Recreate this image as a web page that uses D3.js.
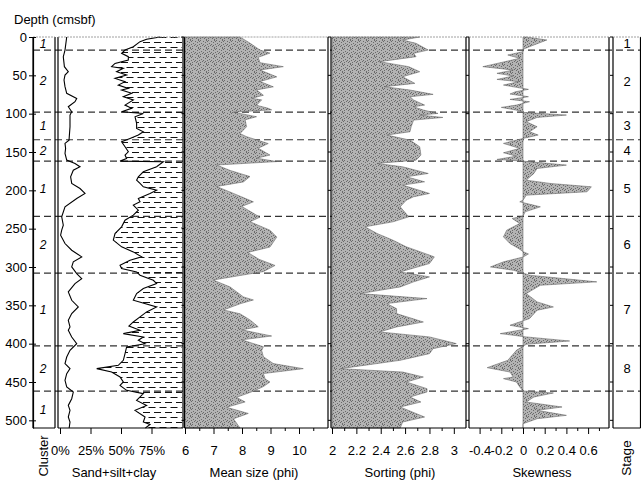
<!DOCTYPE html>
<html>
<head>
<meta charset="utf-8">
<script src="https://cdn.jsdelivr.net/npm/d3@7"></script>
<style>
    body { margin: 0; background: #fff; }
    svg text { font-family: "Liberation Sans", Arial, sans-serif; fill: #000; }
    .tick text { font-family: "Liberation Sans Narrow", "Arial Narrow", "Liberation Sans", sans-serif; font-size: 13px; }
    .title { font-size: 13px; }
    .seg-label { font-size: 12px; }
</style>
</head>
<body>
<div id="core"></div>
<script>

// ---- data (depth in cmsbf, value) ----

const maxDepth = 510;

// unit boundaries (dashed lines)
const boundaries = [17, 98, 134, 162, 234, 308, 403, 462];
const clusterIds = ["1", "2", "1", "2", "1", "2", "1", "2", "1"];
const stageIds = ["1", "2", "3", "4", "5", "6", "7", "8", ""];

// sand % (left line)
const sandPct = [[0, 5.5], [17, 4.1], [25.7, 2.7], [38.7, 3.6], [45.3, 6.8], [49.6, 4.1], [56.1, 3.3], [64.8, 4.1],
    [73.5, 5.5], [80.1, 13.7], [84.4, 12.3], [90.9, 6.8], [97.5, 9.6], [101.8, 8.2], [117, 8.2], [134.5, 7.4],
    [138.8, 4.1], [145.3, 4.6], [151.9, 4.1], [160.6, 5.5], [165, 12.3], [169.3, 16.4], [173.7, 10.9], [182.4, 8.7],
    [191, 9.6], [197.6, 16.4], [204.1, 20.5], [210.6, 13.7], [221.5, 4.1], [234.6, 1.4], [245.5, 2.7], [252, 1.4],
    [258.5, 0.5], [269.4, 4.1], [278.1, 9.6], [286.8, 17.8], [293.3, 10.9], [299.9, 9.6], [308.6, 13.7], [315.1, 17.8],
    [321.6, 12.3], [332.5, 6.8], [343.4, 9.6], [352.1, 15], [360.8, 9.6], [369.5, 6.8], [378.2, 8.2], [382.6, 6.8],
    [391.3, 9.6], [400, 13.7], [408.7, 8.2], [417.4, 5.5], [426.1, 4.1], [432.6, 8.2], [439.1, 5.5], [447.8, 4.1],
    [456.5, 5.5], [463.1, 10.9], [471.8, 9.6], [480.5, 6.8], [487, 8.2], [495.7, 6.8], [502.2, 8.2], [510, 7.5]];

// sand+silt % (clay is the rest, dashed fill)
const sandSiltPct = [[0, 82], [3, 71], [6.1, 65.6], [12.6, 60.1], [17, 53.3], [21.3, 50.5], [25.7, 56], [30, 56],
    [34.4, 45.1], [38.7, 42.3], [40.9, 51.9], [45.3, 46.4], [49.6, 54.6], [54, 45.1], [58.3, 53.3], [62.7, 47.8],
    [67, 56], [69.2, 50.5], [73.5, 58.7], [77.9, 51.9], [82.2, 60.1], [88.8, 53.3], [93.1, 58.7], [97.5, 50.5],
    [99.7, 68.3], [104, 61.5], [112.7, 62.8], [119.2, 62.8], [123.6, 68.3], [127.9, 64.2], [132.3, 57.4], [136.6, 50.5],
    [143.2, 53.3], [149.7, 56], [154, 53.3], [158.4, 54.6], [161.9, 49.2], [162.8, 84.7], [169.3, 79.2], [175.8, 68.3],
    [182.4, 64.2], [186.7, 62.8], [191, 65.6], [195.4, 68.3], [199.8, 79.2], [204.1, 73.8], [210.6, 64.2], [215, 65.6],
    [219.3, 60.1], [225.9, 64.2], [232.4, 60.1], [238.9, 53.3], [247.6, 50.5], [256.3, 45.1], [265, 43.7], [273.7, 50.5],
    [280.3, 60.1], [286.8, 66.9], [291.1, 57.4], [297.7, 49.2], [302, 50.5], [306.4, 62.8], [310.7, 65.6], [317.3, 76.5],
    [321.6, 79.2], [328.1, 68.3], [334.7, 62.8], [343.4, 60.1], [352.1, 79.2], [358.6, 71], [365.1, 65.6], [371.7, 60.1],
    [377, 56.5], [382.6, 65.6], [386.9, 51.9], [391.3, 68.3], [395.6, 64.2], [400, 69.7], [404.3, 54.6], [413, 53.3],
    [421.7, 51.9], [428.2, 47.8], [432.6, 30.1], [437, 42.3], [443.5, 49.2], [450, 51.9], [454.4, 49.2], [460.9, 54.6],
    [465.2, 68.3], [474, 62.8], [480.5, 71], [487, 61.5], [495.7, 69.7], [502.2, 68.3], [505.3, 73.8], [510, 70]];

// mean size (phi)
const meanSize = [[0, 7.93], [8, 8.28], [17, 8.63], [21, 8.98], [26.5, 8.57], [33.5, 8.63], [38.7, 9.45], [43, 8.63],
    [52, 9.22], [58, 8.63], [65, 9.10], [69, 8.51], [76, 8.75], [80, 8.34], [82, 8.69], [89, 8.51], [93, 8.92],
    [95, 9.04], [98, 7.70], [104, 8.51], [108, 8.11], [117, 8.16], [126, 7.93], [130, 8.16], [139, 8.92], [145, 8.57],
    [154, 8.98], [158, 8.51], [162.5, 9.22], [167, 7.11], [174, 7.58], [182, 8.28], [189, 8.05], [195, 7.11],
    [204, 7.70], [215, 8.40], [221, 7.99], [235, 8.63], [241, 8.28], [252, 8.98], [261, 9.22], [274, 8.98],
    [281, 8.2], [290, 8.6], [298, 9.16], [306, 8.75], [317, 6.99], [326, 7.58], [339, 8.05], [343, 8.40],
    [348, 7.93], [356, 7.35], [361, 7.93], [369, 8.28], [378, 8.57], [382, 7.99], [390, 9.04], [395, 7.99],
    [404, 8.75], [409, 8.69], [417, 8.75], [426, 9.10], [432.6, 10.15], [439, 8.75], [446, 8.81], [450, 8.98],
    [456, 8.75], [462, 8.40], [470, 7.81], [476, 8.11], [483, 7.46], [491, 8.22], [498, 7.70], [510, 7.93]];

// sorting (phi)
const sorting = [[0, 2.72], [3.9, 2.58], [8.3, 2.69], [17, 2.79], [21.3, 2.67], [25.7, 2.69], [32.2, 2.39], [38.7, 2.63],
    [45.3, 2.72], [51.8, 2.58], [60.5, 2.68], [64.8, 2.43], [69.2, 2.64], [74.8, 2.83], [77.9, 2.64], [82.2, 2.67],
    [88.8, 2.76], [90.9, 2.67], [95.3, 2.75], [99.7, 2.87], [101.8, 2.72], [104.9, 2.91], [108.4, 2.67], [117, 2.65],
    [123.6, 2.64], [127.9, 2.45], [134.5, 2.64], [143.2, 2.72], [154, 2.73], [160.6, 2.69], [164.9, 2.37], [169.3, 2.58],
    [178, 2.79], [182.3, 2.61], [188.9, 2.76], [193.2, 2.58], [204.1, 2.80], [208.4, 2.67], [212.8, 2.61], [221.5, 2.56],
    [234.6, 2.63], [241.1, 2.50], [247.6, 2.27], [256.3, 2.37], [265, 2.50], [273.7, 2.61], [281, 2.74], [286.8, 2.84],
    [295.5, 2.80], [306.4, 2.56], [312.9, 2.80], [319.4, 2.67], [326, 2.56], [334.7, 2.23], [341.2, 2.78], [347.7, 2.45],
    [354.3, 2.53], [360.8, 2.53], [371.7, 2.75], [378.2, 2.53], [384.7, 2.39], [391.2, 2.80], [399.9, 3.02], [406.5, 2.83],
    [413, 2.80], [421.7, 2.56], [432.6, 2.07], [437, 2.58], [443.5, 2.75], [450, 2.61], [458.7, 2.78], [463, 2.78],
    [469.6, 2.64], [476.1, 2.73], [482.6, 2.56], [495.7, 2.76], [502.2, 2.58], [510, 2.56]];

// skewness
const skewness = [[0, 0.03], [3.9, 0.22], [10.4, 0.10], [16.1, 0], [19.1, 0], [23.5, -0.14], [27.8, -0.03], [38.7, -0.37],
    [43.1, -0.09], [47.4, -0.24], [50.9, -0.09], [55.3, -0.24], [58.3, -0.04], [62.7, -0.18], [65.7, -0.06], [68.3, 0.05],
    [71.4, -0.07], [74.4, -0.12], [77.9, 0.05], [81.4, -0.12], [84.4, 0.06], [88.8, -0.06], [91.8, -0.20], [96.2, -0.03],
    [98.3, 0], [101.8, 0.40], [104.9, 0.13], [110.5, 0.03], [117, 0.13], [123.6, 0.06], [127.9, 0.14], [132.3, 0],
    [138.8, -0.18], [145.3, -0.03], [151, -0.18], [155.4, -0.06], [159.7, -0.24], [161.9, 0], [167.1, 0.40], [171.5, 0.13],
    [178, 0.10], [186.7, 0.03], [191, 0.25], [195.4, 0.63], [201.9, 0.59], [206.3, 0.03], [212.8, 0], [215, -0.03],
    [221.5, 0.16], [228, 0.02], [233.7, 0], [236.7, -0.10], [243.3, -0.03], [252, -0.15], [260.7, -0.18], [269.4, -0.12],
    [275.9, -0.04], [280, 0], [283, 0.05], [287, 0], [293.3, -0.18], [299.9, -0.30], [304.2, -0.09], [307.7, 0],
    [310.7, 0.06], [319.4, 0.68], [323.8, 0.16], [334.7, 0.03], [345.5, 0.13], [352.1, 0.28], [356.4, 0.13], [367.3, 0.06],
    [376, -0.12], [380.4, 0.05], [386.9, -0.21], [391.2, 0.03], [396.5, 0.43], [400.8, 0.03], [404.3, -0.01], [408.6, -0.06],
    [421.7, -0.14], [431.3, -0.33], [437, -0.12], [443.5, -0.09], [445.6, -0.18], [450, -0.06], [456.5, -0.03], [461.7, 0],
    [464.3, 0.28], [469.6, 0.10], [476.1, 0.03], [482.6, 0.36], [487, 0.13], [493.5, 0.40], [497.9, 0.13], [504.4, 0], [510, 0]];

// tick labels for the bottom axes
const depthTicks = d3.range(0, 501, 50);
const sandTicks = [0, 25, 50, 75];
const meanTicks = [6, 7, 8, 9, 10];
const meanMinor = [6.5, 7.5, 8.5, 9.5, 10.5];
const sortTicks = [2, 2.2, 2.4, 2.6, 2.8, 3];
const sortMinor = [2.1, 2.3, 2.5, 2.7, 2.9];
const skewTicks = [-0.4, -0.2, 0, 0.2, 0.4, 0.6];
const skewMinor = [-0.3, -0.1, 0.1, 0.3, 0.5, 0.7];


class CoreLog {

    constructor(parentElement) {
        this.parentElement = parentElement;
        this.initVis();
    }

    initVis() {
        let vis = this;

        vis.width = 641;
        vis.height = 480;
        vis.top = 37;
        vis.bottom = 428;

        vis.svg = d3.select("#" + vis.parentElement).append("svg")
            .attr("width", vis.width)
            .attr("height", vis.height);

        vis.y = d3.scaleLinear().domain([0, maxDepth]).range([vis.top, vis.bottom]);

        vis.xSand = d3.scaleLinear().domain([0, 100]).range([60, 182]);
        vis.xMean = d3.scaleLinear().domain([6, 11]).range([185, 327.5]);
        vis.xSort = d3.scaleLinear().domain([2, 3.1]).range([332, 466]);
        vis.xSkew = d3.scaleLinear().domain([-0.5, 0.8]).range([468.75, 609.8]);

        // panel edges [left, right]
        vis.panels = [[33, 55], [58, 183], [184.5, 328], [331, 466], [469, 609], [613, 640.5]];

        let defs = vis.svg.append("defs");

        // clay: short horizontal dashes
        let dash = defs.append("pattern")
            .attr("id", "clay")
            .attr("patternUnits", "userSpaceOnUse")
            .attr("width", 11).attr("height", 10);
        dash.append("path")
            .attr("d", "M0,2.5H7 M5.5,7.5H11 M0,7.5H1.5")
            .attr("stroke", "#111").attr("stroke-width", 1);

        // gray stipple for the profile fills (scattered dots so it doesn't look hatched)
        let stip = defs.append("pattern")
            .attr("id", "stipple")
            .attr("patternUnits", "userSpaceOnUse")
            .attr("width", 8).attr("height", 8);
        stip.append("rect").attr("width", 8).attr("height", 8).attr("fill", "#b3b3b3");
        [[0, 0], [3, 1], [6, 0], [1, 3], [5, 2], [7, 4], [2, 5], [4, 6], [6, 7], [0, 6], [3, 4], [7, 1], [5, 5]].forEach(p => {
            stip.append("rect").attr("x", p[0]).attr("y", p[1]).attr("width", 1).attr("height", 1).attr("fill", "#6a6a6a");
        });

        vis.drawBoundaries();
        vis.drawProfiles();
        vis.drawFrames();
        vis.drawAxes();
    }

    drawBoundaries() {
        let vis = this;

        vis.svg.append("g").selectAll("line")
            .data(boundaries)
            .enter().append("line")
            .attr("x1", 33).attr("x2", 640)
            .attr("y1", d => vis.y(d)).attr("y2", d => vis.y(d))
            .attr("stroke", "#333")
            .attr("stroke-width", 1.2)
            .attr("stroke-dasharray", "7,4");

        // cluster + stage numbers in the middle of each unit
        let edges = [0].concat(boundaries, [maxDepth]);
        let mids = d3.range(edges.length - 1).map(i => (edges[i] + edges[i + 1]) / 2);

        vis.svg.append("g").selectAll("text")
            .data(mids)
            .enter().append("text")
            .attr("class", "seg-label")
            .attr("x", 43)
            .attr("y", d => vis.y(d))
            .attr("dy", "0.35em")
            .attr("text-anchor", "middle")
            .style("font-style", "italic")
            .text((d, i) => clusterIds[i]);

        vis.svg.append("g").selectAll("text")
            .data(mids)
            .enter().append("text")
            .attr("class", "seg-label")
            .attr("x", 627)
            .attr("y", d => vis.y(d))
            .attr("dy", "0.35em")
            .attr("text-anchor", "middle")
            .style("font-size", "13px")
            .text((d, i) => stageIds[i]);
    }

    drawProfiles() {
        let vis = this;

        // clay area right of the sand+silt curve
        let clayArea = d3.area()
            .y(d => vis.y(d[0]))
            .x0(d => vis.xSand(d[1]))
            .x1(vis.xSand(100));

        vis.svg.append("path")
            .datum(sandSiltPct)
            .attr("d", clayArea)
            .attr("fill", "url(#clay)");

        let sandLine = d3.line()
            .x(d => vis.xSand(d[1]))
            .y(d => vis.y(d[0]));

        [sandPct, sandSiltPct].forEach(series => {
            vis.svg.append("path")
                .datum(series)
                .attr("d", sandLine)
                .attr("fill", "none")
                .attr("stroke", "#000")
                .attr("stroke-width", 1.1);
        });

        // gray filled profiles
        let profiles = [
            {data: meanSize, x: vis.xMean, base: 6},
            {data: sorting, x: vis.xSort, base: 2},
            {data: skewness, x: vis.xSkew, base: 0}
        ];

        profiles.forEach(p => {
            let area = d3.area()
                .y(d => vis.y(d[0]))
                .x0(p.x(p.base))
                .x1(d => p.x(d[1]));

            vis.svg.append("path")
                .datum(p.data)
                .attr("d", area)
                .attr("fill", "url(#stipple)")
                .attr("stroke", "#555")
                .attr("stroke-width", 0.5);
        });
    }

    drawFrames() {
        let vis = this;

        let g = vis.svg.append("g");

        vis.panels.forEach(p => {
            // left + right borders
            p.forEach(x => {
                g.append("line")
                    .attr("x1", x).attr("x2", x)
                    .attr("y1", vis.top).attr("y2", vis.bottom)
                    .attr("stroke", "#000").attr("stroke-width", 1.2);
            });
            // top (light) and bottom
            g.append("line")
                .attr("x1", p[0]).attr("x2", p[1])
                .attr("y1", vis.top).attr("y2", vis.top)
                .attr("stroke", "#888").attr("stroke-width", 0.8)
                .attr("stroke-dasharray", "2,1");
            g.append("line")
                .attr("x1", p[0]).attr("x2", p[1])
                .attr("y1", vis.bottom).attr("y2", vis.bottom)
                .attr("stroke", "#000").attr("stroke-width", 1);

            // small depth ticks on the left edge of each panel
            if (p[0] > 100) {
                g.append("g").selectAll("line")
                    .data(depthTicks)
                    .enter().append("line")
                    .attr("x1", p[0] - 3).attr("x2", p[0])
                    .attr("y1", d => vis.y(d)).attr("y2", d => vis.y(d))
                    .attr("stroke", "#000");
            }
        });
    }

    drawAxes() {
        let vis = this;

        // depth axis
        let yAxis = d3.axisLeft(vis.y)
            .tickValues(depthTicks)
            .tickSizeInner(4)
            .tickSizeOuter(0)
            .tickPadding(2);

        let ya = vis.svg.append("g")
            .attr("transform", "translate(33,0)")
            .call(yAxis);
        ya.select(".domain").attr("stroke-width", 1.2);
        ya.selectAll(".tick line").attr("x2", -4).attr("x1", 3);

        vis.svg.append("text")
            .attr("class", "title")
            .attr("x", 14).attr("y", 24)
            .text("Depth (cmsbf)");

        // bottom axes
        let bottoms = [
            {x: vis.xSand, major: sandTicks, minor: [], fmt: d => d + "%", title: "Sand+silt+clay", cx: 114},
            {x: vis.xMean, major: meanTicks, minor: meanMinor, fmt: d => String(d), title: "Mean size (phi)", cx: 254},
            {x: vis.xSort, major: sortTicks, minor: sortMinor, fmt: d => String(d), title: "Sorting (phi)", cx: 400},
            {x: vis.xSkew, major: skewTicks, minor: skewMinor, fmt: d => String(d), title: "Skewness", cx: 542}
        ];

        bottoms.forEach(b => {
            let major = vis.svg.append("g")
                .attr("transform", `translate(0,${vis.bottom})`)
                .call(d3.axisBottom(b.x).tickValues(b.major).tickFormat(b.fmt).tickSizeInner(6).tickSizeOuter(0).tickPadding(12));
            major.select(".domain").remove();

            let minor = vis.svg.append("g")
                .attr("transform", `translate(0,${vis.bottom})`)
                .call(d3.axisBottom(b.x).tickValues(b.minor).tickFormat("").tickSizeInner(3).tickSizeOuter(0));
            minor.select(".domain").remove();

            vis.svg.append("text")
                .attr("class", "title")
                .attr("x", b.cx).attr("y", 477)
                .attr("text-anchor", "middle")
                .text(b.title);
        });

        // rotated column titles
        vis.svg.append("text")
            .attr("class", "title")
            .attr("transform", "translate(48,456) rotate(-90)")
            .attr("text-anchor", "middle")
            .text("Cluster");

        vis.svg.append("text")
            .attr("class", "title")
            .style("font-size", "13.5px")
            .attr("transform", "translate(631,458) rotate(-90)")
            .attr("text-anchor", "middle")
            .text("Stage");
    }
}

new CoreLog("core");

</script>
</body>
</html>
